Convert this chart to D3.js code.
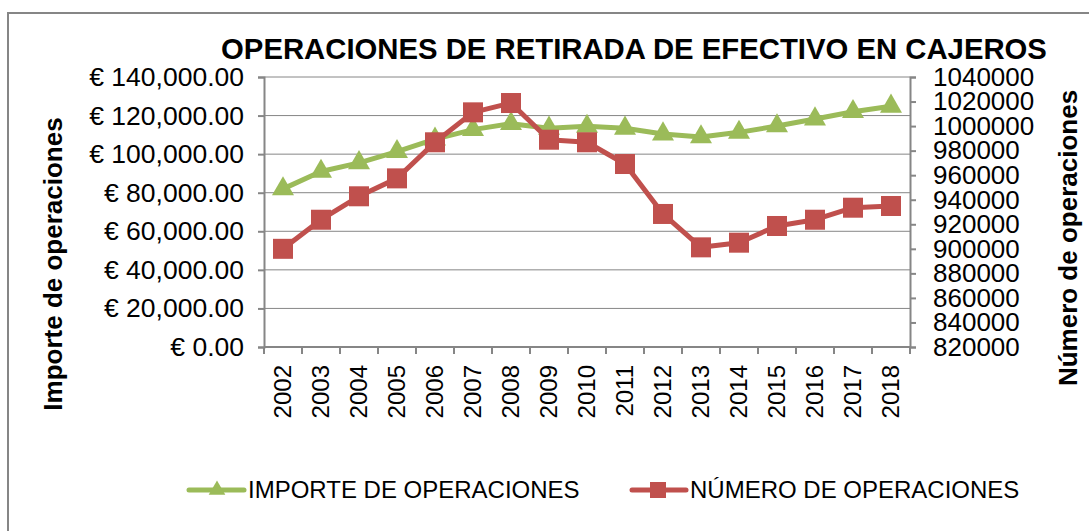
<!DOCTYPE html>
<html lang="es">
<head>
    <meta charset="UTF-8">
    <title>Operaciones de retirada de efectivo en cajeros</title>
    <script src="https://d3js.org/d3.v7.min.js"></script>
    <style>
        body {
            margin: 0;
            background: #fff;
            font-family: "Liberation Sans", Arial, sans-serif;
        }
        svg {
            display: block;
        }
    </style>
</head>
<body>
    <svg width="1089" height="531"></svg>

    <script>
        const years = ["2002", "2003", "2004", "2005", "2006", "2007", "2008", "2009", "2010",
                       "2011", "2012", "2013", "2014", "2015", "2016", "2017", "2018"];
        // importe de operaciones (eje izquierdo, €)
        const importe = [82000, 91000, 95500, 101300, 107800, 112700, 115800, 113400, 114400,
                         113400, 110400, 108900, 111300, 114600, 118200, 122000, 124800];
        // número de operaciones (eje derecho)
        const numero = [900000, 923700, 942800, 957400, 986800, 1011200, 1018800, 988900, 986800,
                        969100, 928400, 901200, 905000, 918600, 923700, 933500, 934900];
        const leftTicks = [0, 20000, 40000, 60000, 80000, 100000, 120000, 140000];
        const rightTicks = [820000, 840000, 860000, 880000, 900000, 920000, 940000, 960000,
                            980000, 1000000, 1020000, 1040000];

        const green = "#9BBB59";
        const red = "#C0504D";
        const gray = "#868686";

        const margin = {left: 264, right: 910, top: 77, bottom: 347};

        const svg = d3.select("svg");

        // marco exterior
        svg.append("rect")
            .attr("x", 8).attr("y", 13)
            .attr("width", 1200).attr("height", 700)
            .attr("fill", "none")
            .attr("stroke", gray)
            .attr("stroke-width", 2);

        const x = d3.scaleBand().domain(years).range([margin.left, margin.right]);
        const yLeft = d3.scaleLinear().domain([0, 140000]).range([margin.bottom, margin.top]);
        const yRight = d3.scaleLinear().domain([820000, 1040000]).range([margin.bottom, margin.top]);

        // líneas de cuadrícula
        svg.append("g")
            .selectAll("line")
            .data(leftTicks.slice(1))
            .join("line")
            .attr("x1", margin.left).attr("x2", margin.right)
            .attr("y1", d => yLeft(d)).attr("y2", d => yLeft(d))
            .attr("stroke", gray)
            .attr("stroke-width", 1);

        // eje izquierdo
        const euro = d3.format(",.2f");
        const leftAxis = svg.append("g")
            .attr("transform", `translate(${margin.left},0)`)
            .call(d3.axisLeft(yLeft).tickValues(leftTicks).tickSize(6).tickPadding(14)
                .tickFormat(d => "€ " + euro(d)));

        // eje derecho
        const rightAxis = svg.append("g")
            .attr("transform", `translate(${margin.right},0)`)
            .call(d3.axisRight(yRight).tickValues(rightTicks).tickSize(6).tickPadding(17)
                .tickFormat(d3.format("d")));

        [leftAxis, rightAxis].forEach(g => {
            g.select(".domain").attr("stroke", gray).attr("stroke-width", 2);
            g.selectAll(".tick line").attr("stroke", gray).attr("stroke-width", 2);
            g.selectAll(".tick text")
                .attr("fill", "#000")
                .style("font-family", "'Liberation Sans', Arial, sans-serif");
        });
        leftAxis.selectAll(".tick text").style("font-size", "26.5px");
        rightAxis.selectAll(".tick text").style("font-size", "26px");

        // eje x
        const xAxis = svg.append("g");
        xAxis.append("line")
            .attr("x1", margin.left).attr("x2", margin.right)
            .attr("y1", margin.bottom).attr("y2", margin.bottom)
            .attr("stroke", gray).attr("stroke-width", 2);
        const bounds = years.map(d => x(d)).concat([margin.right]);
        xAxis.selectAll("line.tk")
            .data(bounds)
            .join("line")
            .attr("class", "tk")
            .attr("x1", d => d).attr("x2", d => d)
            .attr("y1", margin.bottom).attr("y2", margin.bottom + 7)
            .attr("stroke", gray).attr("stroke-width", 2);
        xAxis.selectAll("text")
            .data(years)
            .join("text")
            .attr("transform", d => `translate(${x(d) + x.bandwidth() / 2},${margin.bottom + 18}) rotate(-90)`)
            .attr("text-anchor", "end")
            .attr("dy", "0.35em")
            .style("font-size", "24px")
            .text(d => d);

        // series
        const cx = d => x(d) + x.bandwidth() / 2;

        const lineImporte = d3.line().x((d, i) => cx(years[i])).y(d => yLeft(d));
        const lineNumero = d3.line().x((d, i) => cx(years[i])).y(d => yRight(d));

        svg.append("path")
            .datum(importe)
            .attr("d", lineImporte)
            .attr("fill", "none")
            .attr("stroke", green)
            .attr("stroke-width", 5)
            .attr("stroke-linejoin", "round");

        svg.append("g")
            .selectAll("path")
            .data(importe)
            .join("path")
            .attr("d", d3.symbol(d3.symbolTriangle, 210))
            .attr("transform", (d, i) => `translate(${cx(years[i])},${yLeft(d)})`)
            .attr("fill", green);

        svg.append("path")
            .datum(numero)
            .attr("d", lineNumero)
            .attr("fill", "none")
            .attr("stroke", red)
            .attr("stroke-width", 5)
            .attr("stroke-linejoin", "round");

        svg.append("g")
            .selectAll("rect")
            .data(numero)
            .join("rect")
            .attr("x", (d, i) => cx(years[i]) - 10)
            .attr("y", d => yRight(d) - 10)
            .attr("width", 20).attr("height", 20)
            .attr("fill", red);

        // título
        svg.append("text")
            .attr("x", 634).attr("y", 59)
            .attr("text-anchor", "middle")
            .style("font-size", "29.3px")
            .style("font-weight", "bold")
            .text("OPERACIONES DE RETIRADA DE EFECTIVO EN CAJEROS");

        // títulos de ejes
        svg.append("text")
            .attr("transform", "translate(53,264) rotate(-90)")
            .attr("text-anchor", "middle")
            .attr("dy", "0.35em")
            .style("font-size", "26px")
            .style("font-weight", "bold")
            .text("Importe de operaciones");

        svg.append("text")
            .attr("transform", "translate(1068,238) rotate(-90)")
            .attr("text-anchor", "middle")
            .attr("dy", "0.35em")
            .style("font-size", "26px")
            .style("font-weight", "bold")
            .text("Número de operaciones");

        // leyenda
        const legendY = 490;
        const legend = svg.append("g");
        legend.append("line")
            .attr("x1", 189).attr("x2", 244)
            .attr("y1", legendY).attr("y2", legendY)
            .attr("stroke", green).attr("stroke-width", 5).attr("stroke-linecap", "round");
        legend.append("path")
            .attr("d", d3.symbol(d3.symbolTriangle, 120))
            .attr("transform", `translate(217,${legendY})`)
            .attr("fill", green);
        legend.append("text")
            .attr("x", 248).attr("y", legendY)
            .attr("dy", "0.35em")
            .style("font-size", "24px")
            .text("IMPORTE DE OPERACIONES");

        legend.append("line")
            .attr("x1", 632).attr("x2", 686)
            .attr("y1", legendY).attr("y2", legendY)
            .attr("stroke", red).attr("stroke-width", 5).attr("stroke-linecap", "round");
        legend.append("rect")
            .attr("x", 650).attr("y", legendY - 8)
            .attr("width", 16).attr("height", 16)
            .attr("fill", red);
        legend.append("text")
            .attr("x", 690).attr("y", legendY)
            .attr("dy", "0.35em")
            .style("font-size", "24px")
            .text("NÚMERO DE OPERACIONES");
    </script>
</body>
</html>
